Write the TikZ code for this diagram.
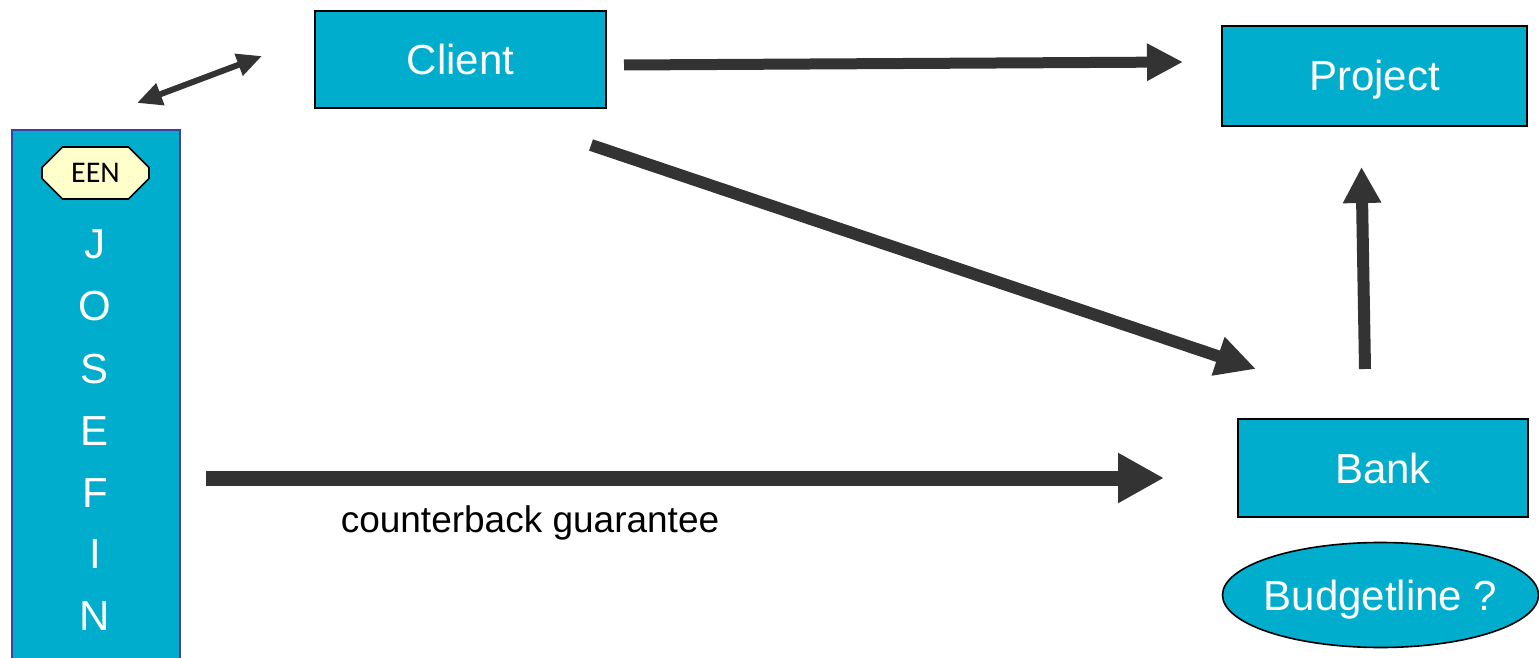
\documentclass[tikz,border=0pt]{standalone}
\usepackage{fontspec}
\setmainfont{Liberation Sans}
\newfontfamily\carlito{Carlito}
\usetikzlibrary{arrows.meta,shapes.geometric,shapes.misc}
\definecolor{cyanbox}{RGB}{0,173,205}
\definecolor{arrowgray}{RGB}{51,51,51}
\definecolor{paleyellow}{RGB}{255,255,204}
\definecolor{purpleborder}{RGB}{64,64,160}
\tikzset{
  box/.style={draw=black, line width=2pt, fill=cyanbox, text=white, inner sep=0pt,
    text height=30pt, text depth=0pt, font=\fontsize{42}{50}\selectfont},
  letter/.style={text=white, inner sep=0pt, text height=30pt, text depth=0pt, font=\fontsize{42}{50}\selectfont},
  bigarrow/.style={draw=arrowgray, line width=#1},
}
\begin{document}
\begin{tikzpicture}[x=1pt,y=-1pt]
\useasboundingbox (0,0) rectangle (1539,658);
\begin{scope}
\clip (0,0) rectangle (1539,658);
% JOSEFIN column
\node[draw=purpleborder, line width=2pt, fill=cyanbox, minimum width=168pt, minimum height=560pt, inner sep=0pt] (josefin) at (96,410) {};
\end{scope}
\node[chamfered rectangle, chamfered rectangle xsep=10pt, chamfered rectangle ysep=11pt,
      draw=black, line width=1.6pt, fill=paleyellow, minimum width=107pt, minimum height=52pt,
      inner sep=0pt, text height=19pt, text depth=0pt, font=\carlito\fontsize{30}{34}\selectfont] (een) at (95.5,173) {EEN};
\node[letter] (lJ) at (95,243) {J};
\node[letter] (lO) at (95,305) {O};
\node[letter] (lS) at (95,368) {S};
\node[letter] (lE) at (95,430) {E};
\node[letter] (lF) at (95,492) {F};
\node[letter] (lI) at (95,553) {I};
\node[letter] (lN) at (95,615) {N};

% main boxes
\node[box, minimum width=291pt, minimum height=97pt] (client) at (460.5,59.5) {Client};
\node[box, minimum width=305pt, minimum height=100pt] (project) at (1374.5,76) {Project};
\node[box, minimum width=290pt, minimum height=98pt] (bank) at (1383,468) {Bank};
\node[box, ellipse, line width=1.6pt, inner xsep=-14pt, minimum width=316pt, minimum height=105pt] (budget) at (1380.5,595) {Budgetline ?};

% connector end points
\coordinate (dA) at (137,103);
\coordinate (dB) at (262,56);
\coordinate (cp1) at ([shift={(17,5.5)}]client.east);
\coordinate (cp2) at ([shift={(-38,-14)}]project.west);
\coordinate (cb1) at ([shift={(-16,36)}]client.south east);
\coordinate (cb2) at ([shift={(19,-49)}]bank.north west);
\coordinate (bp1) at ([shift={(-18,-49)}]bank.north);
\coordinate (bp2) at ([shift={(-13,40)}]project.south);
\coordinate (jb0) at ([shift={(25,0)}]josefin.east |- 0,478);
\coordinate (jb2) at ([shift={(-73,10)}]bank.west);

\draw[bigarrow=6pt, {Triangle[length=25pt,width=22pt]}-{Triangle[length=25pt,width=22pt]}, arrowgray] (dA) -- (dB);
\draw[bigarrow=11pt, -{Triangle[length=36pt,width=35pt]}, arrowgray] (cp1) -- (cp2);
\draw[bigarrow=12pt, -{Triangle[length=40pt,width=38pt]}, arrowgray] (cb1) -- (cb2);
\draw[bigarrow=12pt, -{Triangle[length=36pt,width=36pt]}, arrowgray] (bp1) -- (bp2);
\draw[bigarrow=15pt, -{Triangle[length=46pt,width=47pt]}, arrowgray] (jb0) -- (jb2);

\node[font=\fontsize{37}{44}\selectfont, inner sep=0pt] (label) at (530,523) {counterback guarantee};
\end{tikzpicture}
\end{document}
